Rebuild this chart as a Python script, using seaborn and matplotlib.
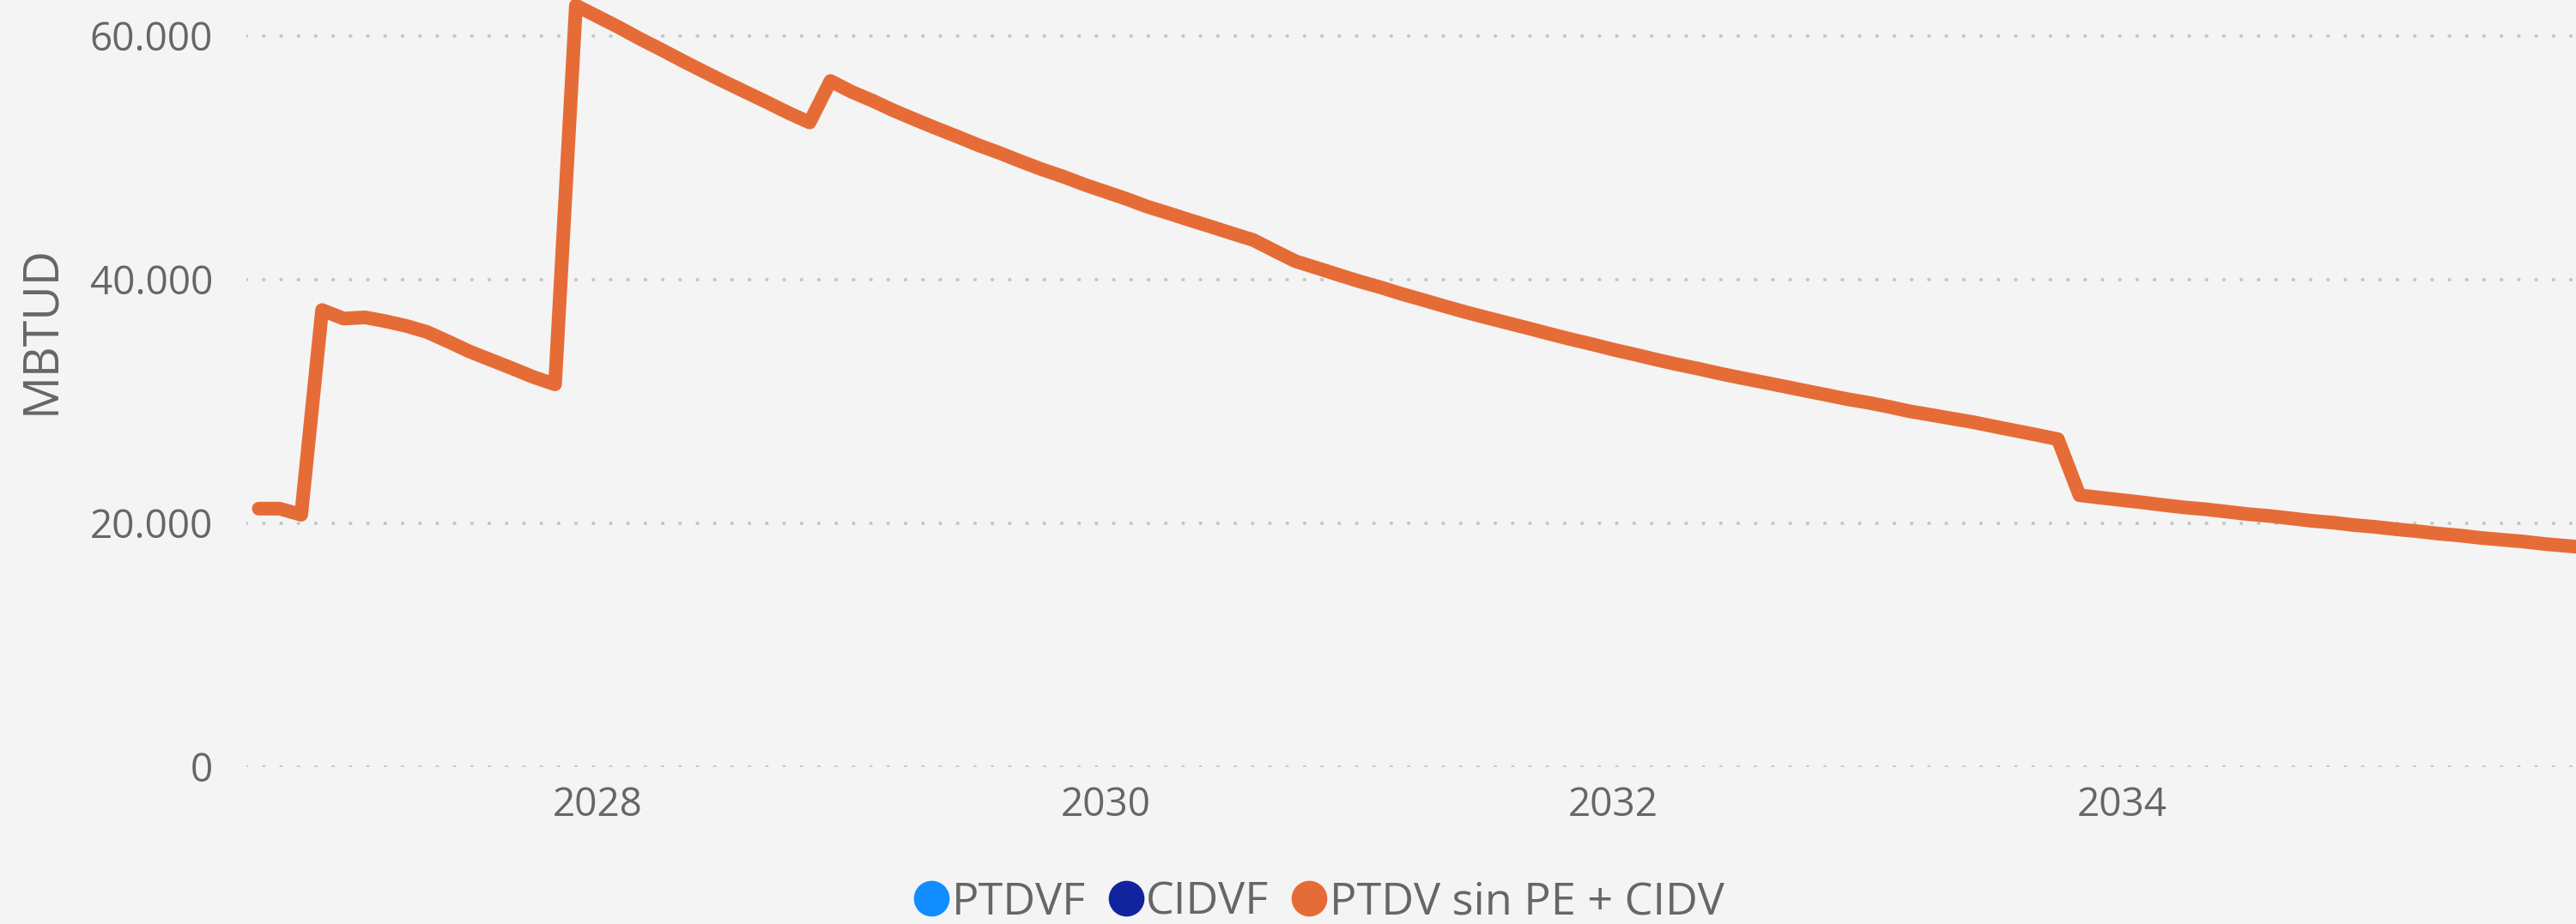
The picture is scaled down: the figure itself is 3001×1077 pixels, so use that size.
import pandas as pd
import matplotlib
matplotlib.use("Agg")
import matplotlib.pyplot as plt
import matplotlib.dates as mdates
from matplotlib.lines import Line2D
import seaborn as sns

# series names and colours (Power BI palette)
series_names = ["PTDVF", "CIDVF", "PTDV sin PE + CIDV"]
series_colors = ["#118DFF", "#12239E", "#E66C37"]

# monthly values of "PTDV sin PE + CIDV" (MBTUD), starting Sep 2026
first_month = "2026-09-01"
ptdv_values = [
    21200, 21200, 20700, 37500,                      # Sep-Dec 2026
    36800, 36900, 36600, 36200, 35700, 34900,        # 2027
    34100, 33400, 32700, 32000, 31400, 62500,
    61600, 60700, 59800, 58900, 58000, 57100,        # 2028
    56250, 55400, 54550, 53700, 52900, 56300,
    55400, 54650, 53900, 53150, 52450, 51750,        # 2029
    51050, 50400, 49700, 49050, 48450, 47800,
    47200, 46600, 46000, 45450, 44900, 44350,        # 2030
    43800, 43250, 42350, 41500, 40950, 40400,
    39850, 39350, 38850, 38350, 37850, 37350,        # 2031
    36900, 36450, 36000, 35550, 35100, 34700,
    34250, 33850, 33450, 33050, 32700, 32300,        # 2032
    31950, 31600, 31250, 30900, 30550, 30200,
    29900, 29550, 29200, 28900, 28600, 28300,        # 2033
    27950, 27600, 27250, 26900, 22300, 22100,
    21900, 21700, 21500, 21300, 21150, 20950,        # 2034
    20750, 20600, 20400, 20200, 20050, 19850,
    19700, 19500, 19350, 19150, 19000, 18800,        # 2035
    18650, 18500, 18300, 18150, 18000,
]
y_ticks = [0, 20000, 40000, 60000]
y_tick_labels = ["0", "20.000", "40.000", "60.000"]

df = pd.DataFrame({
    "fecha": pd.date_range(first_month, periods=len(ptdv_values), freq="MS"),
    "MBTUD": ptdv_values,
})

sns.set_style("white")
plt.rcParams["font.family"] = ["Open Sans", "DejaVu Sans"]

bg = "#F4F4F4"
grey = "#666666"

fig = plt.figure(figsize=(30.01, 10.77), dpi=100, facecolor=bg)
ax = fig.add_axes([0.0956, 0.170, 0.9044, 0.830])
ax.set_facecolor(bg)

sns.lineplot(data=df, x="fecha", y="MBTUD", ax=ax, color=series_colors[2],
             linewidth=11.5, solid_joinstyle="round", solid_capstyle="round",
             clip_on=False, zorder=3)

ax.set_ylim(0, 62950)
ax.set_xlim(pd.Timestamp("2026-08-14"), pd.Timestamp("2035-10-16"))
ax.set_yticks(y_ticks)
ax.set_yticklabels(y_tick_labels)
ax.xaxis.set_major_locator(mdates.YearLocator(2))
ax.xaxis.set_major_formatter(mdates.DateFormatter("%Y"))

ax.grid(axis="y", color="#C6C6C6", linewidth=3, linestyle=(0, (0.05, 4.8)),
        dash_capstyle="round")
ax.grid(axis="x", visible=False)
ax.set_axisbelow(True)
for s in ax.spines.values():
    s.set_visible(False)

ax.tick_params(axis="y", length=0, pad=28, labelsize=33, labelcolor=grey)
ax.tick_params(axis="x", length=0, pad=16, labelsize=33, labelcolor=grey)

ax.set_xlabel("")
ax.set_ylabel("MBTUD", fontsize=40, color=grey)
ax.yaxis.set_label_coords(-0.0774, 0.57)

handles = [Line2D([], [], linestyle="none", marker="o", markersize=29,
                  markerfacecolor=c, markeredgecolor=c) for c in series_colors]
fig.legend(handles, series_names, loc="center", bbox_to_anchor=(0.512, 0.023),
           ncol=3, frameon=False, fontsize=37.5, labelcolor=grey,
           handletextpad=0.05, columnspacing=0.5, handlelength=0.8,
           borderaxespad=0)

fig.savefig("out.png", dpi=100, facecolor=bg)
